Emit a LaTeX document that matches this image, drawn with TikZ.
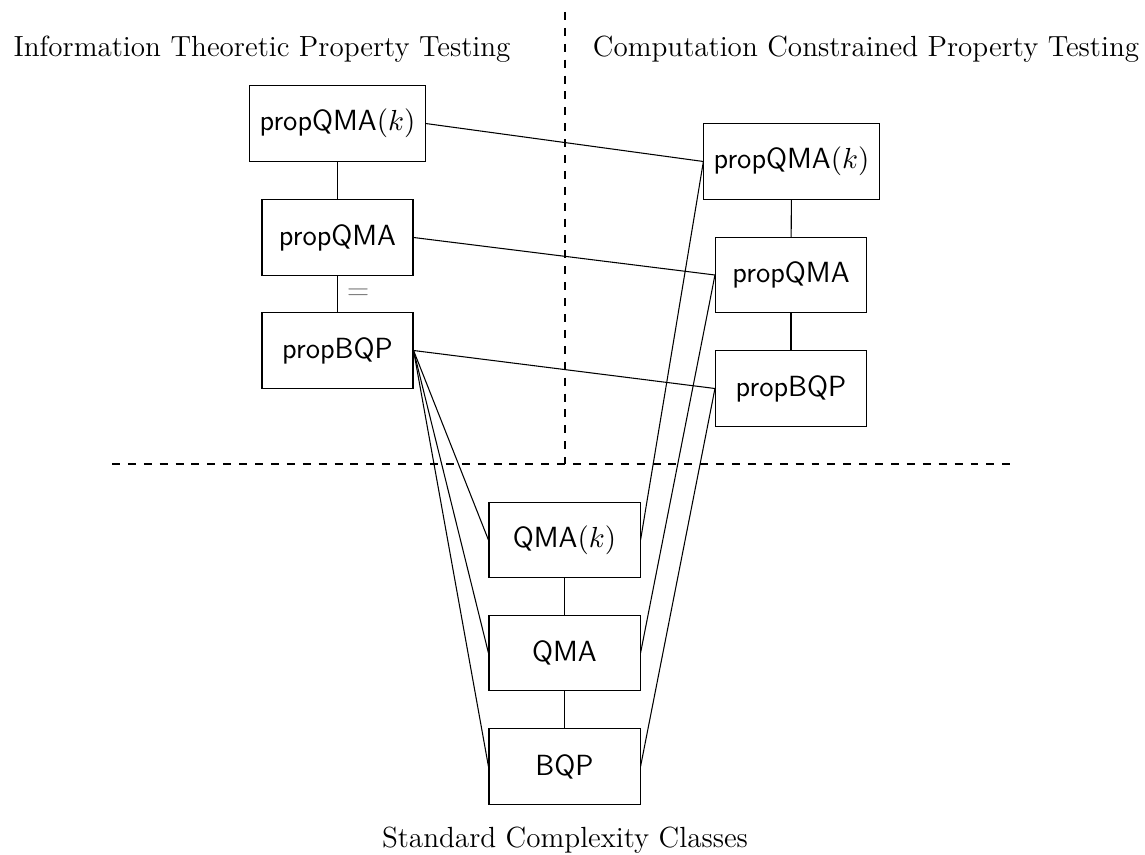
\documentclass[tikz,border=0pt]{standalone}
\begin{document}
\begin{tikzpicture}[x=0.3774pt,y=-0.3774pt,
  every node/.style={font=\fontsize{11}{13}\selectfont},
  cls/.style={draw, font=\fontsize{11}{13}\selectfont\sffamily, minimum width=57pt, minimum height=28.4pt, inner sep=3.67pt},
  head/.style={anchor=base, font=\fontsize{11}{13}\selectfont\rmfamily},
  link/.style={draw, line width=0.4pt},
  divider/.style={draw, dashed}]
\useasboundingbox (0,0) rectangle (1145,854);

\node[head] (hl) at (262,56.5) {Information Theoretic Property Testing};
\node[head] (hr) at (866,56.5) {Computation Constrained Property Testing};
\node[head] (hb) at (565,847) {Standard Complexity Classes};

\coordinate (vt) at (565,12);
\coordinate (vb) at (565,464);
\coordinate (hlft) at (112,464);
\coordinate (hrgt) at (1010,464);
\draw[divider] (vt) -- (vb);
\draw[divider] (hlft) -- (hrgt);

\node[cls] (L1) at (337.5,123.5) {propQMA$(k)$};
\node[cls] (L2) at (337.5,237.5) {propQMA};
\node[cls] (L3) at (337.5,350.5) {propBQP};

\node[cls] (R1) at (791.5,161.5) {propQMA$(k)$};
\node[cls] (R2) at (791,275) {propQMA};
\node[cls] (R3) at (791,388.5) {propBQP};

\node[cls] (S1) at (564.5,540) {QMA$(k)$};
\node[cls] (S2) at (564.5,653) {QMA};
\node[cls] (S3) at (564.5,766.5) {BQP};

\draw[link] (L1) -- (L2);
\draw[link] (L2) -- node[right, text=gray] (eq) {$=$} (L3);
\draw[link] (R1) -- (R2);
\draw[link] (R2) -- (R3);
\draw[link] (S1) -- (S2);
\draw[link] (S2) -- (S3);

\draw[link] (L1.east) -- (R1.west);
\draw[link] (L2.east) -- (R2.west);
\draw[link] (L3.east) -- (R3.west);
\draw[link] (L3.east) -- (S1.west);
\draw[link] (L3.east) -- (S2.west);
\draw[link] (L3.east) -- (S3.west);
\draw[link] (S1.east) -- (R1.west);
\draw[link] (S2.east) -- (R2.west);
\draw[link] (S3.east) -- (R3.west);
\end{tikzpicture}
\end{document}
